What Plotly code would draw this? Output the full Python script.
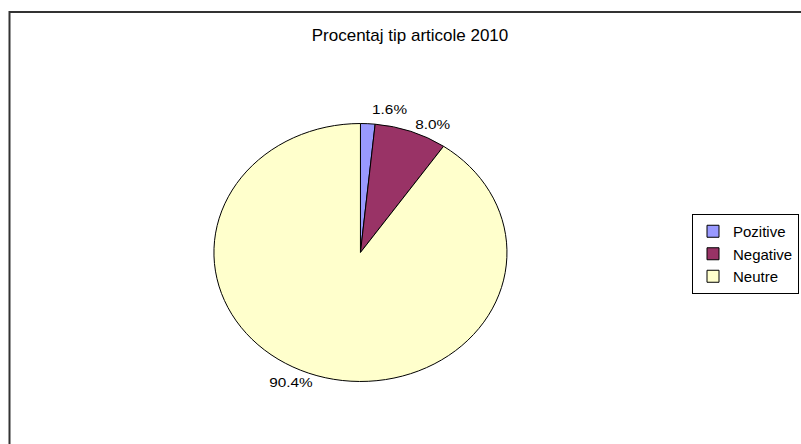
import plotly.graph_objects as go

# Data for the pie
labels = ["Pozitive", "Negative", "Neutre"]
values = [1.6, 8.0, 90.4]
colors = ["#9999FF", "#993366", "#FFFFCC"]
title = "Procentaj tip articole 2010"

W, H = 801, 444
STRETCH = 1.136  # the original pie is an ellipse, wider than tall


def main():
    fig = go.Figure()

    fig.add_trace(go.Pie(
        labels=labels,
        values=values,
        sort=False,
        direction="clockwise",
        rotation=0,
        marker=dict(colors=colors, line=dict(color="black", width=1)),
        texttemplate="%{percent:.1%}",
        textposition="outside",
        textfont=dict(family="Liberation Sans, Arial", size=13.5, color="black"),
        hoverinfo="label+percent",
        domain=dict(x=[0.25, 0.65], y=[0.1408, 0.7218]),
    ))

    fig.update_layout(
        width=W,
        height=H,
        margin=dict(l=0, r=0, t=0, b=0, autoexpand=False),
        paper_bgcolor="white",
        font=dict(family="Liberation Sans, Arial", color="black"),
        title=dict(text=title, x=410 / W, y=1 - 35 / H, xanchor="center",
                   yanchor="middle", font=dict(size=17, color="black")),
        showlegend=True,
        legend=dict(
            x=692 / W, xanchor="left",
            y=1 - 214 / H, yanchor="top",
            bgcolor="white", bordercolor="black", borderwidth=1,
            font=dict(size=15, color="black"),
            itemwidth=30,
            traceorder="normal",
        ),
    )

    # chart area frame (cut off on the right and bottom in the original)
    fig.add_shape(type="rect", xref="paper", yref="paper",
                  x0=9.5 / W, x1=1.05, y0=-0.05, y1=1 - 12 / H,
                  line=dict(color="#333333", width=2), fillcolor="rgba(0,0,0,0)")

    post = """
    document.body.style.margin = '0';
    var gd = document.getElementById('{plot_id}');
    function stretchPie() {
        var cd = gd.calcdata[0][0];
        var cx = cd.cx, cy = cd.cy;
        gd.querySelectorAll('.pielayer g.trace').forEach(function(g) {
            g.setAttribute('transform', 'translate(' + cx + ',' + cy + ') scale(%s,1) translate(' + (-cx) + ',' + (-cy) + ')');
        });
        gd.querySelectorAll('.pielayer path').forEach(function(p) {
            p.style.vectorEffect = 'non-scaling-stroke';
        });
        gd.querySelectorAll('.pielayer path.textline').forEach(function(p) {
            p.style.display = 'none';
        });
    }
    stretchPie();
    gd.on('plotly_afterplot', stretchPie);
    """ % STRETCH

    fig.write_html("out.html", post_script=post, config={"displayModeBar": False})


if __name__ == "__main__":
    main()
